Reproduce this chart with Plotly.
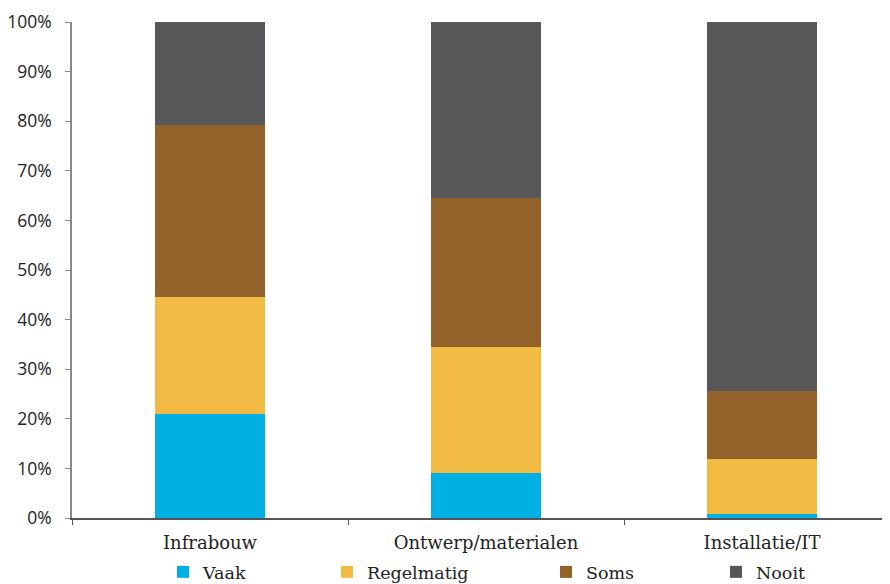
import plotly.graph_objects as go

categories = ["Infrabouw", "Ontwerp/materialen", "Installatie/IT"]
vaak = [21.0, 9.1, 0.8]
regelmatig = [23.6, 25.4, 11.1]
soms = [34.6, 30.0, 13.7]
nooit = [20.8, 35.5, 74.4]
series_names = ["Vaak", "Regelmatig", "Soms", "Nooit"]
colors = ["#00B0E4", "#F0BA43", "#93622A", "#58585A"]
y_ticks = [0, 10, 20, 30, 40, 50, 60, 70, 80, 90, 100]
y_tick_labels = [f"{v}%" for v in y_ticks]

series = [vaak, regelmatig, soms, nooit]
legend_ids = ["legend", "legend2", "legend3", "legend4"]
legend_x = [176, 340, 559, 729]

fig = go.Figure()
for name, vals, col, lid in zip(series_names, series, colors, legend_ids):
    fig.add_trace(go.Bar(x=categories, y=vals, name=name, marker_color=col,
                         marker_line_width=0, legend=lid))

legend_common = dict(orientation="h", yref="container", xref="container",
                     y=2 / 584, yanchor="bottom", xanchor="left",
                     font=dict(family="DejaVu Serif", size=17.5, color="#222222"),
                     itemwidth=30, bgcolor="rgba(0,0,0,0)")
layout_legends = {}
for lid, lx in zip(legend_ids, legend_x):
    d = dict(legend_common)
    d["x"] = (lx - 21) / 890
    layout_legends[lid] = d

fig.update_layout(
    width=890, height=584,
    margin=dict(l=64, r=8, t=14, b=74),
    barmode="stack", bargap=0.6,
    plot_bgcolor="white", paper_bgcolor="white",
    showlegend=True,
    xaxis=dict(type="category", range=[-0.5, -0.5 + 818 / 276], automargin=False,
               showline=True, linecolor="#555555", linewidth=1.5,
               ticks="outside", tickson="boundaries", ticklen=5, tickcolor="#555555",
               tickfont=dict(family="DejaVu Serif", size=18, color="#222222"),
               ticklabelstandoff=8,
               showgrid=False),
    yaxis=dict(range=[0, 100], tickvals=y_ticks, ticktext=y_tick_labels, automargin=False,
               showline=True, linecolor="#888888", linewidth=1.5,
               ticks="outside", ticklen=5, tickcolor="#888888",
               tickfont=dict(family="Open Sans", size=17.5, color="#222222"),
               ticklabelstandoff=10,
               showgrid=False, zeroline=False),
    **layout_legends,
)

fig.write_html("out.html")
